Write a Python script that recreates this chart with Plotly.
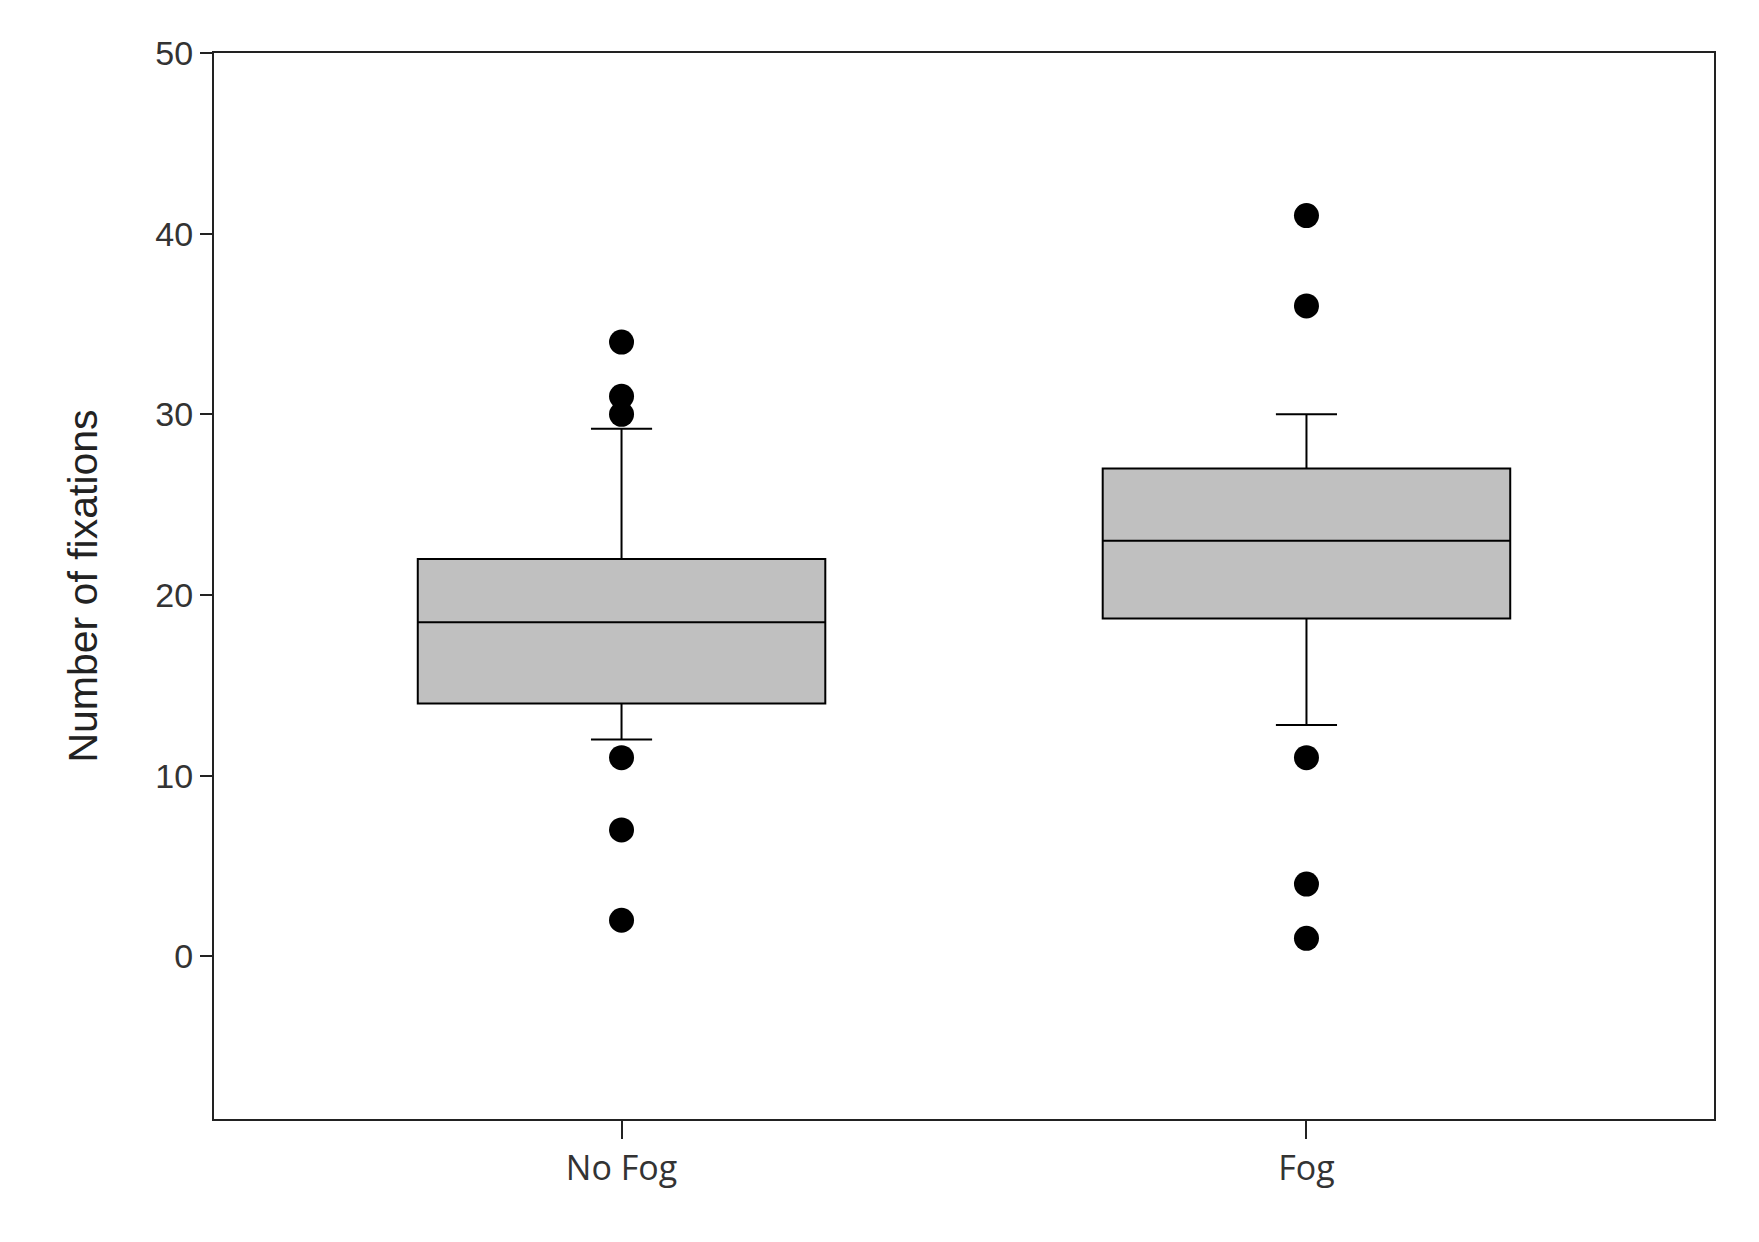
import plotly.graph_objects as go

categories = ["No Fog", "Fog"]
q1 = [14.0, 18.7]
median = [18.5, 23.0]
q3 = [22.0, 27.0]
lower_whisker = [12.0, 12.8]
upper_whisker = [29.2, 30.0]
outliers = [[34, 31, 30, 11, 7, 2], [41, 36, 11, 4, 1]]
yticks = [0, 10, 20, 30, 40, 50]

fig = go.Figure()
for i, c in enumerate(categories):
    fig.add_trace(go.Box(x=[i], q1=[q1[i]], median=[median[i]], q3=[q3[i]],
                         lowerfence=[lower_whisker[i]], upperfence=[upper_whisker[i]],
                         width=0.595, whiskerwidth=0.15, fillcolor="#c0c0c0",
                         line=dict(color="black", width=2), boxpoints=False,
                         showlegend=False, hoverinfo="skip"))
    fig.add_trace(go.Scatter(x=[i]*len(outliers[i]), y=outliers[i], mode="markers",
                             marker=dict(color="black", size=25), showlegend=False))

fig.update_layout(
    width=1759, height=1242, plot_bgcolor="white", paper_bgcolor="white",
    margin=dict(l=206, r=53, t=45, b=131),
    xaxis=dict(range=[-0.595, 1.595], tickvals=[0, 1], ticktext=categories,
               showline=True, mirror=True, linecolor="#222", linewidth=2,
               ticks="outside", ticklen=18, tickwidth=2, tickcolor="#222", showgrid=False,
               zeroline=False, tickfont=dict(family="Open Sans", size=34, color="#333")),
    yaxis=dict(range=[-9, 50], tickvals=yticks, showline=True, mirror=True,
               linecolor="#222", linewidth=2, ticks="outside", ticklen=12, tickwidth=2,
               tickcolor="#222", showgrid=False, zeroline=False,
               title=dict(text="Number of fixations", standoff=45,
                          font=dict(family="Liberation Sans", size=41, color="#222")),
               tickfont=dict(family="Liberation Sans", size=34, color="#333")),
)
fig.write_html("out.html")
